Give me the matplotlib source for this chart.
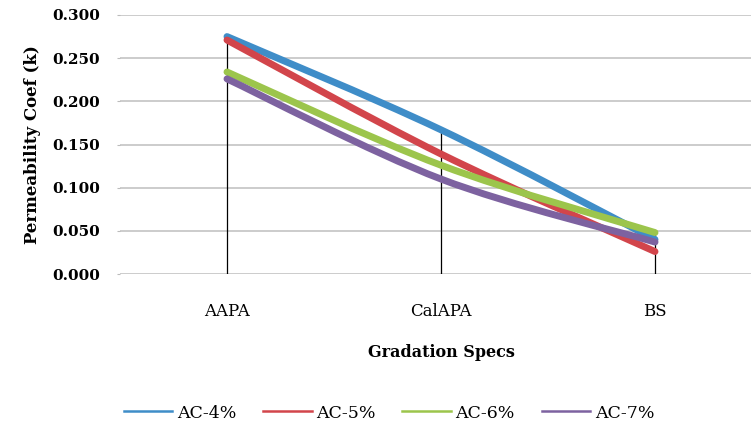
import matplotlib
matplotlib.use("Agg")
import matplotlib.pyplot as plt
from matplotlib.path import Path
from matplotlib.patches import PathPatch
from matplotlib.lines import Line2D

# data
specs = ["AAPA", "CalAPA", "BS"]
ac4 = [0.275, 0.167, 0.040]
ac5 = [0.271, 0.139, 0.026]
ac6 = [0.234, 0.126, 0.048]
ac7 = [0.226, 0.110, 0.037]
series_names = ["AC-4%", "AC-5%", "AC-6%", "AC-7%"]
series_colors = ["#3f8dc8", "#d2454b", "#9cc54c", "#7d62a0"]

serif = ["DejaVu Serif"]


def smooth_path(xs, ys):
    # excel-style smoothed line: bezier through the data points
    verts = [(xs[0], ys[0])]
    codes = [Path.MOVETO]
    n = len(xs)
    for i in range(n - 1):
        xp, yp = (xs[i - 1], ys[i - 1]) if i > 0 else (xs[i], ys[i])
        xn, yn = (xs[i + 2], ys[i + 2]) if i + 2 < n else (xs[i + 1], ys[i + 1])
        c1 = (xs[i] + (xs[i + 1] - xp) / 6, ys[i] + (ys[i + 1] - yp) / 6)
        c2 = (xs[i + 1] - (xn - xs[i]) / 6, ys[i + 1] - (yn - ys[i]) / 6)
        verts += [c1, c2, (xs[i + 1], ys[i + 1])]
        codes += [Path.CURVE4] * 3
    return Path(verts, codes)


fig = plt.figure(figsize=(7.51, 4.25), dpi=100)
ax = fig.add_axes([120 / 751, 1 - 274 / 425, 642 / 751, 259 / 425])

x = [1, 2, 3]
all_series = [ac4, ac5, ac6, ac7]

# drop lines
tops = [max(v) for v in zip(*all_series)]
ax.vlines(x, 0, tops, colors="black", linewidth=0.9, zorder=2)

for vals, col in zip(all_series, series_colors):
    patch = PathPatch(smooth_path(x, vals), facecolor="none", edgecolor=col,
                      linewidth=5, capstyle="round", joinstyle="round", zorder=3)
    ax.add_patch(patch)

ax.set_xlim(0.5, 3.5)
ax.set_ylim(0, 0.3)
ax.set_yticks([0, 0.05, 0.1, 0.15, 0.2, 0.25, 0.3])
ax.set_yticklabels(["%.3f" % t for t in ax.get_yticks()], fontfamily=serif,
                   fontweight="bold", fontsize=11)
ax.set_xticks(x)
ax.set_xticklabels(specs, fontfamily=serif, fontsize=12)
ax.tick_params(axis="x", length=0, pad=21)
ax.tick_params(axis="y", length=2.5, color="#bbbbbb", pad=12)
ax.grid(axis="y", color="#c4c4c4", linewidth=1.2)
ax.set_axisbelow(True)
for s in ax.spines.values():
    s.set_visible(False)

ax.set_xlabel("Gradation Specs", fontfamily=serif, fontweight="bold",
              fontsize=11.5, labelpad=17.5)
ax.set_ylabel("Permeability Coef (k)", fontfamily=serif, fontweight="bold",
              fontsize=12, labelpad=8)

handles = [Line2D([], [], color=c, linewidth=1.8) for c in series_colors]
fig.legend(handles, series_names, loc="center", ncol=4,
           bbox_to_anchor=(389 / 751, 1 - 413 / 425), frameon=False,
           prop={"family": serif, "size": 12.5}, handlelength=2.8,
           handletextpad=0.25, columnspacing=1.55)

fig.savefig("out.png", dpi=100)
